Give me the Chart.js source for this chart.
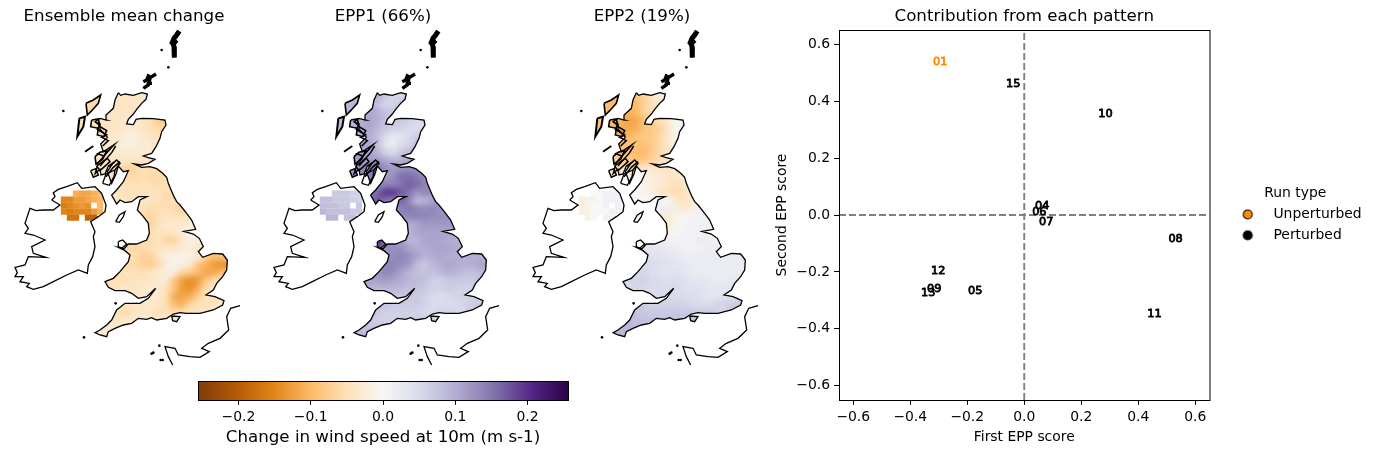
<!DOCTYPE html>
<html><head><meta charset="utf-8">
<style>html,body{margin:0;padding:0;background:#fff;width:1376px;height:454px;overflow:hidden}canvas{position:absolute}</style>
<script src="https://cdn.jsdelivr.net/npm/chart.js@4"></script>
</head><body>
<canvas id="m1" width="260" height="380" style="left:-6px;top:0"></canvas>
<canvas id="m2" width="260" height="380" style="left:253px;top:0"></canvas>
<canvas id="m3" width="260" height="380" style="left:512px;top:0"></canvas>
<canvas id="cb" width="470" height="84" style="left:150px;top:370px"></canvas>
<canvas id="sc" width="606" height="454" style="left:770px;top:0"></canvas>
<script>
const mapTitles=['Ensemble mean change','EPP1 (66%)','EPP2 (19%)'];
const colorbarLabel='Change in wind speed at 10m (m s-1)';
const scatterTitle='Contribution from each pattern';
const xLabel='First EPP score', yLabel='Second EPP score';
const legendTitle='Run type';
const unperturbedIds=['01'], unperturbedX=[-0.295], unperturbedY=[0.541];
const perturbedIds=['04','05','06','07','08','09','10','11','12','13','15'];
const perturbedX=[0.063,-0.172,0.053,0.077,0.531,-0.316,0.285,0.457,-0.302,-0.337,-0.039];
const perturbedY=[0.035,-0.263,0.014,-0.021,-0.081,-0.256,0.358,-0.344,-0.193,-0.27,0.464];
const puOr=['#7f3b08','#b35806','#e08214','#fdb863','#fee0b6','#f7f7f7','#d8daeb','#b2abd2','#8073ac','#542788','#2d004b'];
const colourLimit=0.256;

// Grid of the gridded field: first column of each row (values are hundredths of m/s)
const rowLat=[216,240,264,288,312,336,360,384,408,432,456,480,504,528,552,576,600,624,648,672,696,720,744,768,792,816,840,864,888,912,936,960];
const rowFirstLon=[264,264,240,240,240,240,240,264,264,264,264,288,312,336,336,360,408,432,432,360,384,360,336,312,312,336,360,336,312,288,264,264];
const meanChange=[
[-5,-5,-5,-5,-4,-4,-4,-4,-4],[-6,-6,-5,-5,-4,-4,-4,-4,-4],[-6,-6,-6,-5,-5,-4,-4,-4,-4],
[-6,-6,-5,-5,-4,-4,-4,-4,-4,-5,-6,-6],[-6,-5,-5,-5,-4,-4,-3,-4,-4,-5,-8,-8],[-5,-5,-5,-4,-4,-4,-3,-3,-4,-5,-6,-6],[-5,-5,-4,-4,-3,-3,-2,-2,-3,-4,-5,-5],
[-5,-4,-4,-3,-3,-2,-2,-3,-3,-4],[-5,-4,-4,-3,-3,-3,-3,-3,-3,-4],[-5,-4,-4,-4,-4,-4,-4,-4,-4,-4],
[-4,-4,-4,-4,-5,-7,-7,-5,-6,-5,-5],[-4,-4,-4,-5,-6,-6,-5,-6,-6,-5,-5],[-4,-4,-4,-5,-5,-5,-5,-6,-5,-5],[-4,-4,-5,-5,-5,-5,-4,-6,-5,-4],
[-4,-4,-4,-4,-4,-4,-5,-6,-5,-5,-4],[-4,-4,-4,-4,-6,-5,-5,-6,-7,-6],[-5,-6,-7,-5,-4,-4,-5,-4,-4],[-6,-7,-5,-3,-3,-3,-2,-3],[-6,-5,-4,-5,-4,-2,-1,-3],
[-6,-6,-6,-5,-6,-4,-7,-7,-3,-2,-2,-3],[-6,-6,-6,-5,-4,-3,-4,-3,-2,-4,-6,-6,-7],[-6,-5,-5,-7,-7,-4,-2,-1,-1,-2,-2,-7,-10,-9,-9],
[-5,-5,-6,-6,-7,-8,-6,-2,-1,-2,-2,-9,-11,-13,-14,-14],[-5,-5,-5,-5,-5,-5,-4,-3,-2,-2,-7,-8,-10,-12,-12,-9,-9],[-5,-5,-5,-5,-4,-4,-4,-3,-2,-9,-13,-15,-13,-8,-5,-5],
[-5,-4,-4,-4,-3,-3,-3,-5,-9,-13,-14,-11,-5,-4,-4],[-4,-4,-4,-3,-3,-3,-5,-12,-12,-11,-7,-4,-6,-3,-3],[-4,-4,-4,-4,-4,-3,-4,-5,-10,-11,-6,-5,-5,-4,-3],
[-4,-4,-5,-6,-4,-3,-4,-5,-5,-5,-5,-4],[-3,-3,-4,-4,-3,-3,-3,-3,-4,-4,-4],[-3,-3,-3,-3,-3,-3],[-3,-3,-3,-3,-3]];
const epp1=[
[10,10,10,10,10,9,7,6,6],[9,9,10,10,10,7,5,6,6],[9,9,9,10,10,8,5,6,7],
[9,9,9,10,11,10,8,7,7,7,6,6],[9,9,9,10,11,10,8,8,7,6,5,5],[9,9,9,10,11,9,7,6,6,5,5,5],[9,9,9,10,10,8,5,2,3,5,7,7],
[10,10,11,11,8,3,2,5,6,8],[11,11,11,11,10,6,5,7,9,9],[12,12,12,12,12,11,9,10,11,11],
[12,12,13,15,16,13,12,13,13,13,12],[13,14,15,12,11,13,16,16,15,13,12],[16,16,14,14,14,15,17,16,14,12],[15,16,20,20,17,15,12,14,13,12],
[14,18,15,14,17,14,8,9,11,13,12],[20,12,12,14,15,14,13,14,12,12],[15,13,14,14,14,13,13,13,13],[12,9,11,12,12,12,12,12],[9,9,11,11,11,11,11,11],
[22,18,12,12,9,9,11,11,11,10,10,10],[12,13,13,11,10,10,11,11,11,10,10,10,10],[12,13,13,14,13,11,9,10,11,10,10,10,10,10,10],
[12,12,14,14,13,12,8,7,9,10,11,10,10,10,11,11],[11,11,12,14,13,11,9,8,8,8,9,10,9,8,8,9,10],[11,11,11,12,11,10,9,9,8,6,6,7,7,7,7,8],
[9,9,9,9,9,8,8,7,6,6,7,6,6,6,7],[7,7,7,7,7,7,6,5,4,5,6,6,6,6,6],[8,8,8,7,7,7,7,6,5,5,5,5,6,7,7],
[8,8,7,6,6,6,6,6,5,5,6,6],[8,8,7,6,6,6,7,7,7,7,7],[9,9,8,8,8,8],[9,9,9,9,9]];
const epp2=[
[-8,-8,-8,-8,-9,-7,-4,-2,-2],[-10,-10,-9,-9,-9,-7,-4,-2,-1],[-10,-10,-10,-10,-10,-10,-7,-5,-2],
[-9,-9,-10,-10,-11,-10,-7,-5,-4,-2,-1,0],[-9,-9,-10,-11,-12,-12,-9,-7,-5,-3,0,1],[-9,-9,-10,-11,-12,-11,-9,-8,-7,-4,0,1],[-9,-9,-10,-11,-10,-9,-8,-8,-6,-3,-1,0],
[-9,-9,-10,-9,-9,-9,-8,-6,-3,-2],[-8,-8,-9,-9,-10,-10,-8,-6,-4,-3],[-7,-7,-7,-8,-9,-8,-7,-5,-4,-3],
[-5,-5,-5,-4,-4,-3,-3,-4,-4,-3,-3],[-2,-2,-2,-2,-2,-2,-3,-4,-4,-3,-2],[0,0,0,-1,-2,-3,-4,-5,-4,-2],[0,0,-1,-2,-4,-5,-6,-5,-2,-1],
[0,0,0,0,1,0,-3,-5,-3,0,1],[0,1,1,1,2,-2,-3,-2,1,1],[0,-3,-3,-1,0,1,1,1,2],[-3,-3,-1,0,1,1,1,1],[-2,-1,0,1,1,1,1,1],
[3,3,2,2,1,1,1,1,2,2,1,1],[3,3,3,2,2,1,1,1,2,2,2,2,2],[4,4,4,4,3,3,2,2,2,2,2,2,2,2,2],
[4,4,5,5,4,4,3,3,2,2,2,2,2,2,2,2],[5,5,5,6,4,4,3,4,3,2,2,2,2,2,2,2,2],[5,5,6,6,5,5,4,5,4,3,3,3,2,2,3,3],
[5,6,5,5,5,5,5,4,4,4,3,3,3,3,3],[5,5,5,5,5,5,5,5,4,3,3,4,4,5,5],[7,7,7,6,6,6,6,6,5,5,5,6,6,7,7],
[8,8,8,7,7,7,7,7,7,7,7,7],[9,9,9,8,8,8,8,8,8,8,8],[9,9,9,9,9,9],[9,9,9,9,9]];
// Northern Ireland block
const niLat=[521,539,557,575,593];
const niLon=[192,210,228,246,264,282,300];
const n=null;
const meanNI=[[n,n,-11,-12,-12,-11,-10],[-15,-15,-13,-13,-12,-11,-10],[-16,-15,-14,-13,-14,n,-10],[-15,-16,-15,-15,-15,-13,-11],[n,-17,-17,n,-19,-19,n]];
const epp1NI=[[n,n,7,7,7,6,6],[8,8,7,7,7,6,6],[8,8,8,7,7,n,7],[9,8,8,8,8,7,7],[n,9,9,n,8,8,n]];
const epp2NI=[[n,n,0,0,1,1,1],[-2,-1,-1,0,1,1,1],[-2,-1,0,0,1,n,1],[-2,-1,0,0,0,1,1],[n,-1,0,n,1,1,n]];

// Coastlines, traced in map units
const gbCoast=[[355,218],[362,226],[375,222],[400,226],[425,218],[442,222],[438,238],[425,250],[410,268],[400,282],[385,298],[380,312],[400,314],[408,298],[425,295],[460,296],[495,300],[498,315],[485,335],[480,355],[468,380],[455,400],[430,408],[445,413],[465,418],[445,430],[425,435],[403,432],[425,442],[450,440],[470,446],[488,460],[500,472],[505,490],[512,507],[522,530],[530,545],[540,555],[560,580],[575,600],[587,628],[552,634],[580,642],[598,655],[610,680],[595,695],[608,712],[640,700],[668,702],[682,720],[680,750],[668,770],[650,790],[640,810],[618,825],[645,830],[672,842],[668,855],[640,870],[600,880],[560,880],[540,878],[520,882],[500,895],[470,900],[455,893],[440,898],[415,895],[395,910],[370,915],[345,925],[325,935],[320,950],[300,945],[285,938],[300,930],[320,915],[335,900],[350,870],[375,850],[420,850],[445,835],[467,805],[440,830],[415,835],[395,820],[375,812],[345,812],[325,802],[315,785],[340,775],[360,755],[385,725],[390,705],[375,692],[355,682],[372,686],[385,672],[410,672],[440,660],[448,640],[445,610],[430,590],[412,570],[420,540],[441,530],[415,530],[395,545],[375,548],[360,540],[350,552],[335,525],[350,510],[370,485],[385,452],[370,455],[355,438],[348,462],[335,490],[322,455],[340,428],[325,438],[315,462],[303,465],[300,448],[285,462],[295,428],[318,400],[345,372],[310,395],[302,372],[322,352],[302,330],[300,318],[285,305],[300,295],[320,300],[318,285],[340,265],[345,240]];
const irelandCoast=[[155,540],[165,530],[160,518],[175,508],[200,500],[232,488],[245,505],[285,500],[305,520],[318,555],[315,575],[295,590],[272,605],[285,635],[280,650],[285,680],[278,710],[265,735],[262,760],[235,750],[200,765],[160,785],[130,800],[100,808],[80,800],[88,790],[60,785],[70,770],[45,770],[52,758],[45,742],[75,735],[85,710],[138,712],[100,700],[95,680],[135,660],[100,645],[75,640],[85,625],[75,610],[80,595],[90,565],[108,572],[130,570],[160,570],[180,555]];
const lewis=[[258,250],[280,240],[302,225],[295,250],[275,272],[262,285]];
const uist=[[238,295],[255,290],[250,320],[238,340],[232,350]];
const skye=[[275,300],[295,297],[300,320],[320,332],[312,350],[292,345],[295,325],[272,320]];
const mull=[[285,410],[300,397],[320,392],[308,418],[288,432]];
const coll=[[255,395],[280,378]];
const islay=[[272,452],[288,446],[295,465],[280,472]];
const jura=[[290,438],[322,415],[330,425],[300,452]];
const kintyre=[[308,490],[318,462],[345,450],[342,470],[328,496]];
const man=[[347,605],[358,585],[375,575],[370,590],[358,607]];
const anglesey=[[355,665],[368,660],[380,672],[365,685],[355,680]];
const wight=[[515,888],[540,890],[530,905],[518,902]];
const france=[[720,857],[692,865],[680,890],[686,930],[660,955],[625,970],[605,985],[628,995],[600,1012],[570,1010],[535,1005],[525,985],[495,980],[505,1010],[518,1035]];
const lochs=[[[296,330],[320,345],[305,352],[325,362],[308,378]],[[290,400],[312,408],[332,385]],[[300,438],[335,398],[347,378]],[[328,440],[350,420],[360,430],[345,450]],[[318,470],[340,442],[360,425]],[[285,305],[300,312],[292,328],[310,338]]];
const shetlandSpine=[[538,33],[530,45],[522,55],[518,65],[522,80],[522,100],[524,113]];
const shetlandArms=[[[510,72],[528,58]],[[532,62],[520,76]]];
const orkneyParts=[[[468,162],[452,172],[445,168],[440,180],[430,185]],[[450,175],[445,195],[430,205]],[[440,190],[456,190]]];
const smallIslands=[[190,273],[485,90],[505,142],[252,952],[347,850],[478,977],[460,998],[455,1001],[482,1020],[488,1020]];

const xUnits=[-18,762], yUnits=[30,1080];
const colourAt=v=>{
  const t=Math.max(0,Math.min(1,(v+colourLimit)/(2*colourLimit)))*10;
  const i=Math.min(9,Math.floor(t)),f=t-i;
  const h=c=>[1,3,5].map(k=>parseInt(c.substr(k,2),16));
  const a=h(puOr[i]),b=h(puOr[i+1]);
  return `rgb(${a.map((c,k)=>Math.round(c+(b[k]-c)*f)).join(',')})`;
};
const pts=a=>a.map(([x,y])=>({x,y}));
const closed=a=>pts([...a,a[0]]);
const tracePath=(chart,polys)=>{
  const {ctx,scales:{x,y}}=chart;
  ctx.beginPath();
  polys.forEach(p=>{p.forEach(([a,b],i)=>{const px=x.getPixelForValue(a),py=y.getPixelForValue(b);i?ctx.lineTo(px,py):ctx.moveTo(px,py)});ctx.closePath();});
};
const clipPlugin={id:'landClip',
  beforeDatasetDraw(chart,args){
    const ds=chart.data.datasets[args.index];
    if(!ds.landClip)return;
    chart.ctx.save();
    tracePath(chart,ds.landClip);chart.ctx.clip();
    if(ds.blur)chart.ctx.filter=`blur(${ds.blur}px)`;
  },
  afterDatasetDraw(chart,args){
    if(chart.data.datasets[args.index].landClip)chart.ctx.restore();
  }};
Chart.defaults.font.family='"DejaVu Sans"';
Chart.defaults.color='#000';
Chart.defaults.animation=false;
Chart.defaults.responsive=false;
Chart.defaults.devicePixelRatio=1;
Chart.defaults.layout.autoPadding=false;

function coastSet(a,w,close){return {type:'scatter',showLine:true,data:close?closed(a):pts(a),borderColor:'#000',borderWidth:w,pointRadius:0,fill:false,tension:0};}
function buildMap(id,title,gbRows,niRows,extraLand){
  const gb=[],gbC=[],ni=[],niC=[];
  gbRows.forEach((r,j)=>r.forEach((v,i)=>{gb.push({x:rowFirstLon[j]+24*i,y:rowLat[j]});gbC.push(colourAt(v/100));}));
  niRows.forEach((r,j)=>r.forEach((v,i)=>{if(v!==null){ni.push({x:niLon[i],y:niLat[j]});niC.push(colourAt(v/100));}}));
  new Chart(document.getElementById(id),{type:'scatter',plugins:[clipPlugin],
    data:{datasets:[
      coastSet(gbCoast,1.3,true),coastSet(irelandCoast,1.3,true),
      coastSet(lewis,1.6,true),coastSet(uist,2,true),coastSet(skye,1.6,true),coastSet(mull,1.6,true),coastSet(coll,1.8,false),
      coastSet(islay,1.5,true),coastSet(jura,1.5,true),coastSet(kintyre,1.3,true),coastSet(man,1.3,true),coastSet(anglesey,1.3,true),coastSet(wight,1.3,true),
      coastSet(france,1.3,false),
      ...lochs.map(l=>coastSet(l,1.5,false)),
      coastSet(shetlandSpine,5,false),...shetlandArms.map(l=>coastSet(l,3,false)),...orkneyParts.map(l=>coastSet(l,3.4,false)),
      {data:pts(smallIslands),pointRadius:1.3,pointBackgroundColor:'#000',pointBorderWidth:0},
      {data:ni,pointStyle:'rect',pointRadius:4.5,pointBorderWidth:0,pointBackgroundColor:niC,landClip:[irelandCoast]},
      {data:gb,pointStyle:'rect',pointRadius:9,pointBorderWidth:0,pointBackgroundColor:gbC,landClip:[gbCoast,lewis,uist,skye,mull,islay,jura,wight,...extraLand],blur:3}
    ]},
    options:{events:[],layout:{padding:0,autoPadding:false},
      scales:{x:{type:'linear',display:false,min:xUnits[0],max:xUnits[1]},y:{type:'linear',display:false,reverse:true,min:yUnits[0],max:yUnits[1]}},
      plugins:{legend:{display:false},tooltip:{enabled:false},
        title:{display:true,text:title,font:{size:16.67,weight:'normal'},padding:{top:7,bottom:3},color:'#000'}}}
  });
}
buildMap('m1',mapTitles[0],meanChange,meanNI,[]);
buildMap('m2',mapTitles[1],epp1,epp1NI,[anglesey]);
buildMap('m3',mapTitles[2],epp2,epp2NI,[]);

const boxPlugin={id:'box',afterDraw(chart){const {ctx,chartArea:a}=chart;ctx.save();ctx.strokeStyle='#000';ctx.lineWidth=1;ctx.strokeRect(a.left+.5,a.top+.5,a.right-a.left,a.bottom-a.top);ctx.restore();}};
const fmt=v=>{const s=Math.abs(v).toFixed(1);return (v<-1e-9?'\u2212':'')+s;};

new Chart(document.getElementById('cb'),{type:'bar',plugins:[boxPlugin],
  data:{labels:[''],datasets:[{data:[[-colourLimit,colourLimit]],barPercentage:1,categoryPercentage:1,borderWidth:0,
    backgroundColor(c){const a=c.chart.chartArea;if(!a)return '#fff';const g=c.chart.ctx.createLinearGradient(a.left,0,a.right,0);puOr.forEach((k,i)=>g.addColorStop(i/10,k));return g;}}]},
  options:{indexAxis:'y',events:[],layout:{autoPadding:false,padding:{left:48,right:52,top:11,bottom:0}},
    plugins:{legend:{display:false},tooltip:{enabled:false}},
    scales:{y:{display:false},
      x:{type:'linear',min:-colourLimit,max:colourLimit,afterFit(s){s.height=54;},
        border:{display:false},grid:{drawOnChartArea:false,tickLength:4.9,tickColor:'#000',tickWidth:1},
        ticks:{stepSize:0.1,includeBounds:false,autoSkip:false,maxRotation:0,padding:4,font:{size:13.9},color:'#000',callback:fmt},
        title:{display:true,text:colorbarLabel,font:{size:16.67},padding:{top:0,bottom:6},color:'#000'}}}}
});

const marker=c=>{const k=document.createElement('canvas');k.width=k.height=13;const g=k.getContext('2d');g.beginPath();g.arc(6.5,6.5,4.5,0,Math.PI*2);g.fillStyle=c;g.fill();g.lineWidth=1.1;g.strokeStyle='#000';g.stroke();return k;};
const zero=[-0.65,0.65];
const labelPlugin={id:'runLabels',afterDatasetsDraw(chart){
  const {ctx,scales:{x,y}}=chart;
  ctx.save();ctx.font='11.3px "DejaVu Sans"';ctx.textAlign='center';ctx.textBaseline='middle';ctx.lineWidth=0.8;
  chart.data.datasets.forEach(d=>{if(!d.ids)return;ctx.fillStyle=d.textColor;ctx.strokeStyle=d.textColor;
    d.data.forEach((p,i)=>{const a=x.getPixelForValue(p.x),b=y.getPixelForValue(p.y)+1;ctx.strokeText(d.ids[i],a,b);ctx.fillText(d.ids[i],a,b);});});
  ctx.restore();}};
const legendShift={id:'legendShift',afterLayout(chart){const l=chart.legend;l.left+=12.5;l.right+=12.5;l.top+=3;l.bottom+=3;}};
const axisCommon={type:'linear',min:-0.65,max:0.65,border:{display:false},
  grid:{drawOnChartArea:false,tickLength:4.9,tickColor:'#000',tickWidth:1}};
const tickCommon={stepSize:0.2,includeBounds:false,autoSkip:false,maxRotation:0,font:{size:13.9},color:'#000',callback:fmt};
new Chart(document.getElementById('sc'),{type:'scatter',plugins:[labelPlugin,legendShift,boxPlugin],
  data:{datasets:[
    {label:'Unperturbed',data:unperturbedX.map((x,i)=>({x,y:unperturbedY[i]})),ids:unperturbedIds,textColor:'#ff8c00',backgroundColor:'#ff8c00',borderColor:'#000',borderWidth:1,pointRadius:0,pointStyle:marker('#ff8c00')},
    {label:'Perturbed',data:perturbedX.map((x,i)=>({x,y:perturbedY[i]})),ids:perturbedIds,textColor:'#000',backgroundColor:'#000',borderColor:'#000',borderWidth:1,pointRadius:0,pointStyle:marker('#000')},
    {data:zero.map(x=>({x,y:0})),showLine:true,borderColor:'#808080',borderWidth:1.9,borderDash:[7,3],pointRadius:0},
    {data:zero.map(y=>({x:0,y})),showLine:true,borderColor:'#808080',borderWidth:1.9,borderDash:[7,3],pointRadius:0}
  ]},
  options:{events:[],layout:{autoPadding:false,padding:{left:0,right:20,top:0,bottom:0}},
    scales:{
      x:{...axisCommon,afterFit(s){s.height=54;},ticks:{...tickCommon,padding:4},
        title:{display:true,text:xLabel,font:{size:13.9},padding:{top:0,bottom:8.6},color:'#000'}},
      y:{...axisCommon,afterFit(s){s.width=69;},ticks:{...tickCommon,padding:4},
        title:{display:true,text:yLabel,font:{size:13.9},padding:{top:3.6,bottom:0},color:'#000'}}},
    plugins:{tooltip:{enabled:false},
      title:{display:true,fullSize:false,text:scatterTitle,font:{size:16.67,weight:'normal'},padding:{top:7,bottom:3},color:'#000'},
      legend:{display:true,position:'right',fullSize:false,align:'center',
        title:{display:true,text:legendTitle,font:{size:13.9},color:'#000',padding:{top:0,bottom:-3}},
        labels:{usePointStyle:true,pointStyleWidth:37.5,boxHeight:7,padding:7,font:{size:13.9},color:'#000',filter:i=>!!i.text}}}}
});
</script></body></html>
